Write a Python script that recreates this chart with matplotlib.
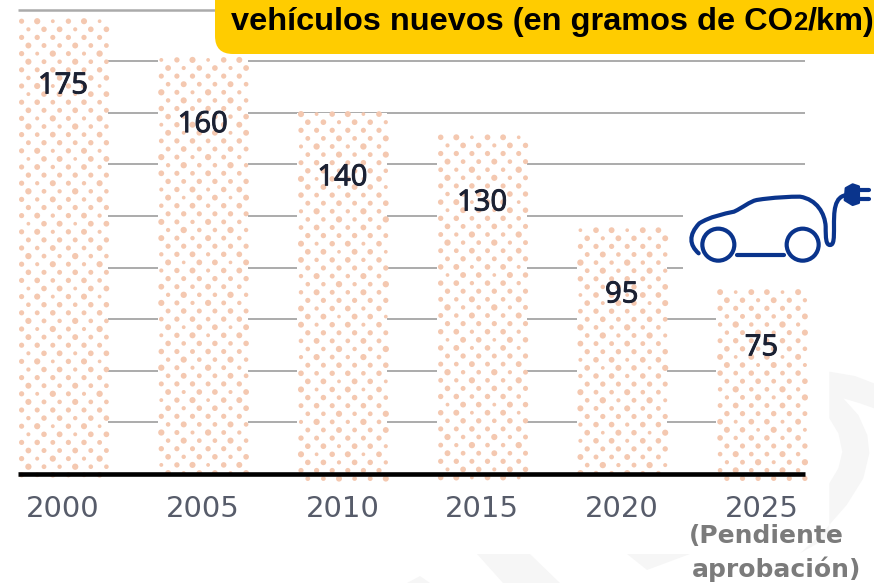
import numpy as np
import matplotlib
matplotlib.use("Agg")
import matplotlib.pyplot as plt
import matplotlib.patheffects as pe
from matplotlib.patches import FancyBboxPatch, Rectangle, PathPatch, Circle, Polygon
from matplotlib.path import Path

years = ["2000", "2005", "2010", "2015", "2020", "2025"]
value_labels = ["175", "160", "140", "130", "95", "75"]
# alturas (la barra de 2025 es mas baja que su etiqueta)
bar_heights = [176, 161, 140, 131, 95, 71]
label_drop = [64, 64, 63, 65, 64, 55]
grid_values = [20, 40, 60, 80, 100, 120, 140, 160, 180]

title = "vehículos nuevos (en gramos de CO"
W, H = 874, 583
step = 139.7
scale = 2.58

fig = plt.figure(figsize=(W / 100, H / 100), dpi=100, facecolor="white")

# fondo en pixeles: marca de agua
bg = fig.add_axes([0, 0, 1, 1])
bg.set_xlim(0, W)
bg.set_ylim(H, 0)
bg.axis("off")
def wm(zx, zy):
    return (780 + zx / 3, 340 + zy / 3)
crescent = [wm(148, 95), wm(225, 108), wm(282, 130), wm(282, 205), wm(240, 190), wm(190, 175), wm(235, 225),
            wm(262, 285), wm(268, 340), wm(250, 415), wm(200, 495), wm(130, 575), wm(60, 640), wm(148, 590),
            wm(148, 430), wm(175, 385), wm(187, 335), wm(175, 280), wm(148, 235)]
bg.add_patch(Polygon(crescent, color="#f6f6f6", lw=0))
bg.add_patch(Polygon([(477, 554), (530, 554), (560, 583), (503, 583)], color="#f6f6f6", lw=0))
bg.add_patch(Polygon([(627, 554), (647, 570), (690, 554)], color="#f6f6f6", lw=0))
bg.add_patch(Polygon([(407, 583), (420, 576), (430, 583)], color="#f6f6f6", lw=0))

ax = fig.add_axes([0, 0, 1, 1])
ax.patch.set_alpha(0)
ax.set_xlim(-63 / step, (W - 63) / step)
ax.set_ylim(-(H - 474) / scale, 474 / scale)
ax.axis("off")

x = np.arange(len(years))
ax.hlines(grid_values[:-1], -0.32, 5.31, color="#ababab", lw=1.4, zorder=1)
ax.hlines(grid_values[-1], -0.32, 1.2, color="#ababab", lw=1.8, zorder=1)
ax.add_patch(Rectangle((4.44, 71.5), 2, 47, color="white", lw=0, zorder=2))
ax.bar(x, bar_heights, width=90 / step, color="white", zorder=3)

# trama de puntos de cada barra, de arriba abajo
for xi, h in zip(x, bar_heights):
    rows = np.arange(h - 0.5, -2, -8.1 / scale)
    for r, yy in enumerate(rows):
        start = -41.4 if r % 2 == 0 else -34.6
        cols = (start + 15.6 * np.arange(6)) / step
        sizes = 14 + 7 * np.cos(cols * 37 + xi * 2) * np.cos(r * 0.75)
        ax.scatter(xi + cols, np.full(len(cols), yy), s=sizes, color="#f4c8b0", lw=0, zorder=4)

ax.hlines(0, -0.32, 5.31, color="black", lw=3.3, zorder=5)

for xi, h, lab, drop in zip(x, bar_heights, value_labels, label_drop):
    ax.annotate(lab, (xi, h), xytext=(0, -(drop + 2) * 0.72), textcoords="offset points", ha="center", va="center",
                fontsize=21, family="Open Sans", color="#1b2133", zorder=6,
                path_effects=[pe.withStroke(linewidth=0.7, foreground="#1b2133")])
for xi, yr in zip(x, years):
    ax.text(xi, -35 / scale, yr, ha="center", va="center", fontsize=21, family="DejaVu Sans",
            color="#575c6a", zorder=6)

# capa superior en pixeles: titulo, coche y nota
top = fig.add_axes([0, 0, 1, 1])
top.patch.set_alpha(0)
top.set_xlim(0, W)
top.set_ylim(H, 0)
top.axis("off")

top.add_patch(FancyBboxPatch((233, -40), 700, 76, boxstyle="round,pad=18,rounding_size=18",
                             fc="#ffcc00", ec="none", zorder=7))
renderer = fig.canvas.get_renderer()
title_y = 30
t1 = top.text(231, title_y, title, fontsize=23.4, family="Liberation Sans", weight="bold", color="black", zorder=8)
x2 = top.transData.inverted().transform(t1.get_window_extent(renderer))[1, 0]
t2 = top.text(x2, title_y, "2", fontsize=18.5, family="Liberation Sans", weight="bold", color="black", zorder=8)
x3 = top.transData.inverted().transform(t2.get_window_extent(renderer))[1, 0]
top.text(x3, title_y, "/km)", fontsize=23.4, family="Liberation Sans", weight="bold", color="black", zorder=8)

navy = "#0a348c"
lw = 3.0
def px(zx, zy):
    return (660 + zx / 3, 160 + zy / 3)

body = [px(116, 280), px(88, 255), px(85, 225), px(118, 190), px(150, 170), px(190, 162), px(222, 155),
        px(250, 142), px(268, 125), px(290, 120), px(340, 112), px(390, 110), px(420, 110),
        px(470, 118), px(495, 160), px(497, 200), px(497, 235), px(498, 255), px(510, 255),
        px(522, 255), px(522, 235), px(522, 200), px(522, 160), px(520, 105), px(565, 105)]
codes = [Path.MOVETO] + [Path.CURVE4] * (len(body) - 1)
top.add_patch(PathPatch(Path(body, codes), fc="none", ec=navy, lw=lw, capstyle="round", zorder=8))
top.add_patch(Circle(px(175, 254), 16, fc="white", ec=navy, lw=lw, zorder=8))
top.add_patch(Circle(px(428, 254), 16, fc="white", ec=navy, lw=lw, zorder=8))
top.plot(*zip(px(232, 286), px(372, 286)), color=navy, lw=lw, solid_capstyle="round", zorder=8)
plug = [px(578, 74), px(558, 85), px(555, 120), px(578, 134), px(596, 128), px(596, 80)]
top.add_patch(Polygon(plug, fc=navy, ec=navy, lw=2, joinstyle="round", zorder=8))
top.plot(*zip(px(596, 90), px(628, 90)), color=navy, lw=lw, solid_capstyle="round", zorder=8)
top.plot(*zip(px(596, 118), px(628, 118)), color=navy, lw=lw, solid_capstyle="round", zorder=8)

top.text(689, 536, "(Pendiente", ha="left", va="center", fontsize=18, family="DejaVu Sans", weight="bold",
         color="#7b7b7b", zorder=8)
top.text(692, 569, "aprobación)", ha="left", va="center", fontsize=18, family="DejaVu Sans", weight="bold",
         color="#7b7b7b", zorder=8)

fig.savefig("out.png", dpi=100)
